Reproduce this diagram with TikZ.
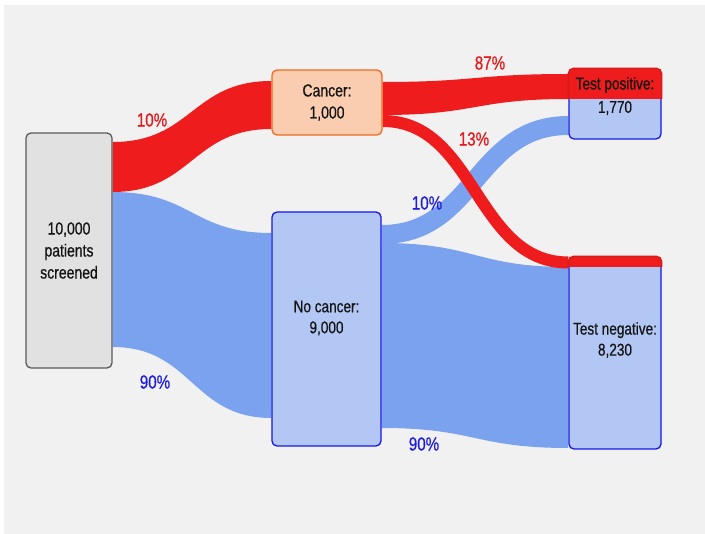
\documentclass[tikz,border=0pt]{standalone}
\usepackage{fontspec}
\setmainfont{Liberation Sans}[FakeStretch=0.8,FakeBold=0.6]
\usetikzlibrary{calc}
\definecolor{panel}{HTML}{F2F1F1}
\definecolor{boxgrey}{HTML}{E1E1E1}
\definecolor{greyedge}{HTML}{5A5A5A}
\definecolor{peach}{HTML}{FACCB0}
\definecolor{orangeedge}{HTML}{F26A1F}
\definecolor{lightblue}{HTML}{B2C7F4}
\definecolor{blueedge}{HTML}{1616EC}
\definecolor{flowred}{HTML}{EE1C1C}
\definecolor{flowblue}{HTML}{7BA2EE}
\definecolor{pctred}{HTML}{E3191C}
\definecolor{pctblue}{HTML}{1C1CE0}
\pgfdeclarelayer{paneltop}
\pgfdeclarelayer{flows}
\pgfsetlayers{paneltop,flows,main}
\tikzset{box/.style={draw,rounded corners=5pt,line width=1.3pt,inner sep=0pt,align=center,
    text=black!92,font=\fontsize{17.5}{22}\selectfont},
  screen/.style={box,fill=boxgrey,draw=greyedge},
  canc/.style={box,fill=peach,draw=orangeedge},
  outcome/.style={box,fill=lightblue,draw=blueedge},
  txt/.style={align=center,text=black!92,font=\fontsize{17}{21}\selectfont},
  pct/.style={font=\fontsize{19}{22}\selectfont},
  redflow/.style={fill=flowred},
  blueflow/.style={fill=flowblue}}
\newcommand{\sankeyband}[7]{%
  \fill[#1] (#2.east|-0,#3) .. controls ($(#2.east|-0,#3)!.5!(#5.west|-0,#3)$) and ($(#2.east|-0,#6)!.5!(#5.west|-0,#6)$) .. (#5.west|-0,#6)
    -- (#5.west|-0,#7) .. controls ($(#2.east|-0,#7)!.5!(#5.west|-0,#7)$) and ($(#2.east|-0,#4)!.5!(#5.west|-0,#4)$) .. (#2.east|-0,#4) -- cycle;}
\newcommand{\sankeylink}[5]{%
  \draw[#1] (#2.east|-0,#3) .. controls ($(#2.east|-0,#3)!.5!(#4.west|-0,#3)$) and ($(#2.east|-0,#5)!.5!(#4.west|-0,#5)$) .. (#4.west|-0,#5);}

\begin{document}
\begin{tikzpicture}[x=1pt,y=-1pt]
\useasboundingbox (0,0) rectangle (705,534);
\begin{pgfonlayer}{paneltop}
\fill[white] (0,0) rectangle (705,534);
\fill[panel] (4,5) rectangle (705,534);
\end{pgfonlayer}

\node[screen,minimum width=86pt,minimum height=235pt] (screened) at (69,250.5) {10,000\\patients\\screened};
\node[canc,minimum width=110pt,minimum height=65pt] (cancer) at (327,102.5) {Cancer:\\1,000};
\node[outcome,minimum width=109pt,minimum height=234pt] (nocancer) at (326.5,329) {};
\node[outcome,minimum width=92pt,minimum height=70pt] (testpos) at (615,104) {};
\node[outcome,minimum width=92pt,minimum height=192pt] (testneg) at (615,353) {};

\begin{scope}
\clip ($(testpos.north west)+(-2,-2)$) rectangle ($(testpos.east|-0,99)+(2,0)$);
\filldraw[fill=flowred,draw=flowred!90!black,line width=1.3pt,rounded corners=5pt] (testpos.north west) rectangle (testpos.south east);
\end{scope}
\begin{scope}
\clip ($(testneg.north west)+(-2,-2)$) rectangle ($(testneg.east|-0,267)+(2,0)$);
\filldraw[fill=flowred,draw=flowred!90!black,line width=1.3pt,rounded corners=5pt] (testneg.north west) rectangle (testneg.south east);
\end{scope}

\node[txt] (nocancer-txt) at (326.5,318) {No cancer:\\9,000};
\node[txt] (testpos-top) at (615,85) {Test positive:};
\node[txt] (testpos-num) at (615,108) {1,770};
\node[txt] (testneg-txt) at (615,340) {Test negative:\\8,230};

\begin{pgfonlayer}{flows}
\sankeyband{blueflow}{screened}{192}{347}{nocancer}{233}{418}
\sankeyband{blueflow}{nocancer}{243}{428}{testneg}{267}{448}
\sankeylink{flowblue,line width=19pt}{nocancer}{234.5}{testpos}{125.5}
\sankeyband{redflow}{screened}{142}{192}{cancer}{81}{129}
\sankeyband{redflow}{cancer}{82}{115}{testpos}{74}{99}
\sankeylink{flowred,line width=12pt}{cancer}{121}{testneg}{262.5}
\end{pgfonlayer}

\node[pct,text=pctred] (p-canc) at (152,120) {10\%};
\node[pct,text=pctblue] (p-nocanc) at (155,382) {90\%};
\node[pct,text=pctred] (p-tp) at (490,63) {87\%};
\node[pct,text=pctred] (p-fn) at (474,139) {13\%};
\node[pct,text=pctblue] (p-fp) at (427,203) {10\%};
\node[pct,text=pctblue] (p-tn) at (424,444) {90\%};
\end{tikzpicture}
\end{document}
